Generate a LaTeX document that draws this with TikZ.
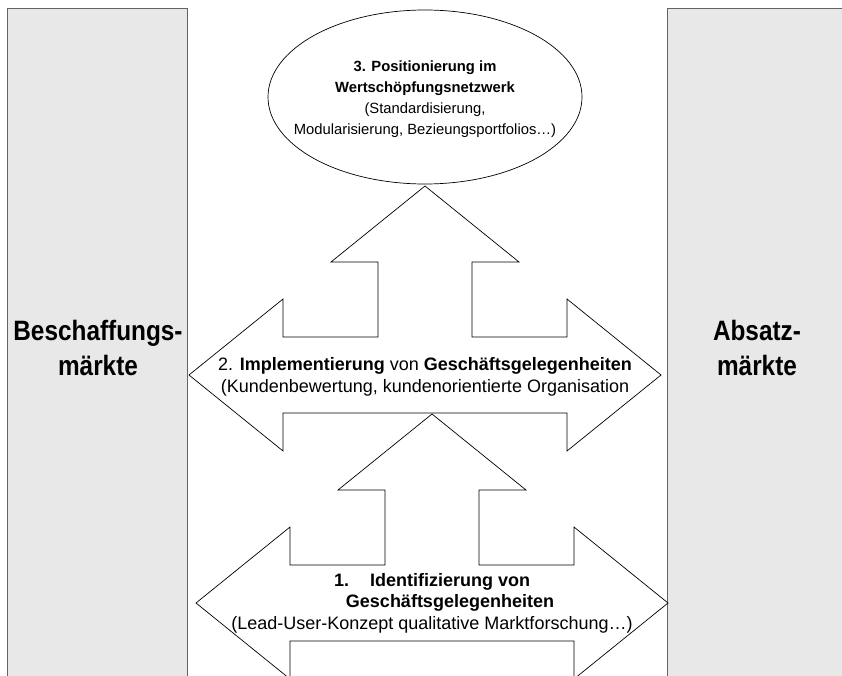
\documentclass[tikz,border=0pt]{standalone}
\usepackage{fontspec}
\setmainfont{Liberation Sans}
\newfontfamily\marketfont[FakeStretch=0.87]{Liberation Sans}
\usetikzlibrary{shapes.geometric}
\definecolor{MkFill}{RGB}{232,232,232}
\definecolor{MkBorder}{RGB}{100,100,100}
\tikzset{
  mk/market/.style={
    draw=MkBorder,
    line width=1.4pt,
    fill=MkFill,
    minimum width=180pt,
    minimum height=720pt,
    anchor=north west
  },
  mk/marketlabel/.style={
    font=\marketfont\fontsize{28}{35}\selectfont\bfseries,
    align=center,
    text=black
  },
  mk/shape/.style={draw=black, line width=0.7pt, fill=white},
  mk/oval/.style={
    ellipse,
    draw=black,
    line width=0.7pt,
    fill=white,
    minimum width=314pt,
    minimum height=174pt
  },
  mk/text/.style={font=\fontsize{18}{21.5}\selectfont, align=center, text=black},
  mk/ovaltext/.style={font=\fontsize{14.8}{21}\selectfont, align=center, text=black},
  pics/triarrow/.style={code={
    \path[mk/shape] (0,-189) -- (94,-113) -- (47,-113) -- (47,-38) -- (142,-38)
      -- (142,-76) -- (236,0) -- (142,76) -- (142,38) -- (-142,38) -- (-142,76)
      -- (-236,0) -- (-142,-76) -- (-142,-38) -- (-47,-38) -- (-47,-113)
      -- (-94,-113) -- cycle;
  }}
}

\begin{document}
\begin{tikzpicture}[x=1pt,y=-1pt]
  \useasboundingbox (0,0) rectangle (842,676);
  \clip (0,0) rectangle (842,676);
  \node[mk/market] (beschaffung) at (7,8) {};
  \node[mk/market] (absatz) at (667,8) {};
  \node[mk/marketlabel] (beschaffunglabel) at (98,348) {Beschaffungs-\\märkte};
  \node[mk/marketlabel] (absatzlabel) at (757,348) {Absatz-\\märkte};
  \node[mk/oval] (pos) at (425,97) {};
  \node[mk/ovaltext] (postext) at (425,99) {\textbf{3. Positionierung im}\\\textbf{Wertschöpfungsnetzwerk}\\(Standardisierung,\\Modularisierung, Bezieungsportfolios…)};
  \pic (impl) at (425,375) {triarrow};
  \pic (ident) at (432,603) {triarrow};
  \node[mk/text] (impltext) at (425,377) {2. \textbf{Implementierung} von \textbf{Geschäftsgelegenheiten}\\(Kundenbewertung, kundenorientierte Organisation};
  \node[mk/text] (identtext) at (432,603) {\textbf{1.\hspace{21pt}Identifizierung von}\\\hspace*{36pt}\textbf{Geschäftsgelegenheiten}\\(Lead-User-Konzept qualitative Marktforschung…)};
\end{tikzpicture}
\end{document}
